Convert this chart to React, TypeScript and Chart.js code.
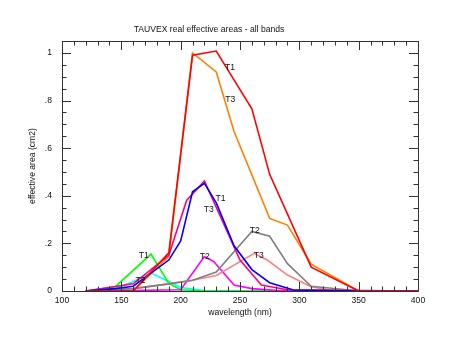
import { useEffect, useRef } from "react";
import { Chart, registerables } from "chart.js";

Chart.register(...registerables);

// ---- data (wavelength in nm, effective area in cm2) ----
const redWl = [120, 160, 190, 210, 230, 260, 275, 310, 350, 400];
const redArea = [0, 0, 0.16, 0.99, 1.008, 0.765, 0.49, 0.1, 0, 0];

const orangeWl = [120, 160, 190, 210, 230, 245, 275, 290, 310, 350, 400];
const orangeArea = [0, 0, 0.145, 1.0, 0.92, 0.67, 0.305, 0.277, 0.113, 0, 0];

const blueWl = [120, 145, 160, 190, 200, 210, 220, 230, 245, 260, 275, 295, 350, 400];
const blueArea = [0, 0.01, 0.02, 0.13, 0.21, 0.417, 0.452, 0.37, 0.19, 0.09, 0.035, 0.004, 0, 0];

const pinkWl = [120, 160, 190, 205, 220, 250, 268, 290, 400];
const pinkArea = [0, 0.03, 0.15, 0.38, 0.462, 0.13, 0.025, 0.005, 0];

const magentaWl = [120, 200, 220, 228, 245, 260, 280, 300, 400];
const magentaArea = [0, 0.005, 0.145, 0.123, 0.025, 0.01, 0.003, 0, 0];

const grayWl = [120, 160, 190, 210, 230, 260, 275, 290, 310, 340, 350, 400];
const grayArea = [0, 0.01, 0.03, 0.045, 0.08, 0.25, 0.23, 0.115, 0.02, 0.005, 0, 0];

const salmonWl = [120, 160, 190, 210, 230, 262, 273, 290, 310, 325, 350, 400];
const salmonArea = [0, 0.01, 0.03, 0.045, 0.065, 0.158, 0.13, 0.067, 0.018, 0.004, 0, 0];

const greenWl = [120, 145, 175, 190, 200, 220, 400];
const greenArea = [0, 0.018, 0.155, 0.032, 0.005, 0, 0];

const cyanWl = [120, 145, 160, 175, 190, 200, 220, 400];
const cyanArea = [0, 0.01, 0.04, 0.075, 0.04, 0.015, 0.002, 0];

// band labels written on the plot
const labelText = ["T1", "T3", "T1", "T3", "T2", "T3", "T2", "T1", "T2"];
const labelWl = [241.6, 241.8, 233.6, 223.6, 262.4, 265.8, 220.3, 168.9, 166.2];
const labelArea = [0.939, 0.803, 0.387, 0.342, 0.252, 0.147, 0.143, 0.149, 0.042];

const xTickValues = [100, 150, 200, 250, 300, 350, 400];
const yTickValues = [0, 0.2, 0.4, 0.6, 0.8, 1.0];

const FONT = "'Liberation Sans', Arial, Helvetica, sans-serif";
const FS = 8.6;

function pts(wl: number[], a: number[]) {
  return wl.map((x, i) => ({ x, y: a[i] }));
}

const frameTicks = {
  id: "frameTicks",
  afterDatasetsDraw(chart: any) {
    const { ctx, chartArea, scales } = chart;
    const { left, right, top, bottom } = chartArea;
    const xs = scales.x;
    const ys = scales.y;
    ctx.save();
    ctx.strokeStyle = "#333";
    ctx.lineWidth = 1;
    ctx.beginPath();
    ctx.rect(Math.round(left) + 0.5, Math.round(top) + 0.5, Math.round(right - left), Math.round(bottom - top));
    ctx.stroke();
    ctx.beginPath();
    for (let v = 100; v <= 400; v += 10) {
      const px = Math.round(xs.getPixelForValue(v)) + 0.5;
      const len = v % 50 === 0 ? 9 : 4.5;
      ctx.moveTo(px, bottom);
      ctx.lineTo(px, bottom - len);
      ctx.moveTo(px, top);
      ctx.lineTo(px, top + len);
    }
    for (let k = 0; k <= 21; k++) {
      const v = k * 0.05;
      const py = Math.round(ys.getPixelForValue(v)) + 0.5;
      const len = k % 4 === 0 ? 9 : 4.5;
      ctx.moveTo(left, py);
      ctx.lineTo(left + len, py);
      ctx.moveTo(right, py);
      ctx.lineTo(right - len, py);
    }
    ctx.stroke();
    // band labels
    ctx.fillStyle = "#111";
    ctx.font = `${FS}px ${FONT}`;
    ctx.textAlign = "center";
    ctx.textBaseline = "middle";
    labelText.forEach((t, i) => {
      ctx.fillText(t, xs.getPixelForValue(labelWl[i]), ys.getPixelForValue(labelArea[i]));
    });
    ctx.restore();
  },
};

export default function App() {
  const ref = useRef<HTMLCanvasElement>(null);
  useEffect(() => {
    document.body.style.margin = "0";
    const lw = 1.6;
    const ds = (label: string, wl: number[], a: number[], color: string) => ({
      label,
      data: pts(wl, a),
      borderColor: color,
      backgroundColor: color,
      borderWidth: lw,
      pointRadius: 0,
      tension: 0,
      fill: false,
    });
    const chart = new Chart(ref.current!, {
      type: "line",
      data: {
        datasets: [
          ds("red", redWl, redArea, "rgb(255,0,0)"),
          ds("blue", blueWl, blueArea, "rgb(0,0,255)"),
          ds("pink", pinkWl, pinkArea, "rgb(255,0,128)"),
          ds("gray", grayWl, grayArea, "rgb(128,128,128)"),
          ds("salmon", salmonWl, salmonArea, "rgb(255,128,128)"),
          ds("magenta", magentaWl, magentaArea, "rgb(255,0,255)"),
          ds("green", greenWl, greenArea, "rgb(0,255,0)"),
          ds("cyan", cyanWl, cyanArea, "rgb(0,255,255)"),
          ds("orange", orangeWl, orangeArea, "rgb(255,128,0)"),
        ],
      },
      options: {
        animation: false,
        responsive: false,
        events: [],
        layout: { padding: { left: 0, right: 40, top: 0, bottom: 0 } },
        plugins: {
          legend: { display: false },
          tooltip: { enabled: false },
          title: {
            display: true,
            text: "TAUVEX real effective areas - all bands",
            color: "#111",
            font: { family: FONT, size: FS, weight: "normal" },
            padding: { top: 24.3, bottom: 6.4 },
          },
        },
        scales: {
          x: {
            type: "linear",
            min: 100,
            max: 400,
            grid: { display: false, drawTicks: false },
            border: { display: false },
            afterBuildTicks: (s: any) => {
              s.ticks = xTickValues.map((v) => ({ value: v }));
            },
            afterFit: (s: any) => {
              s.height = 63;
            },
            ticks: {
              color: "#111",
              font: { family: FONT, size: FS },
              padding: 4,
              maxRotation: 0,
              callback: (v: any) => String(v),
            },
            title: {
              display: true,
              text: "wavelength (nm)",
              color: "#111",
              font: { family: FONT, size: FS },
              padding: { top: 0, bottom: 35.8 },
            },
          },
          y: {
            type: "linear",
            min: 0,
            max: 1.05,
            grid: { display: false, drawTicks: false },
            border: { display: false },
            afterBuildTicks: (s: any) => {
              s.ticks = yTickValues.map((v) => ({ value: v }));
            },
            afterFit: (s: any) => {
              s.width = 62;
            },
            ticks: {
              color: "#111",
              font: { family: FONT, size: FS },
              padding: 10,
              callback: (v: any) => {
                const n = Number(v);
                if (n === 0) return "0";
                if (Math.abs(n - 1) < 1e-9) return "1";
                return n.toFixed(1).replace(/^0/, "");
              },
            },
            title: {
              display: true,
              text: "effective area (cm2)",
              color: "#111",
              font: { family: FONT, size: FS },
              padding: { top: 27.8, bottom: 0 },
            },
          },
        },
      },
      plugins: [frameTicks],
    });
    return () => chart.destroy();
  }, []);
  return (
    <div style={{ position: "absolute", left: 0, top: 0, background: "#fff" }}>
      <canvas ref={ref} width={458} height={354} />
    </div>
  );
}
